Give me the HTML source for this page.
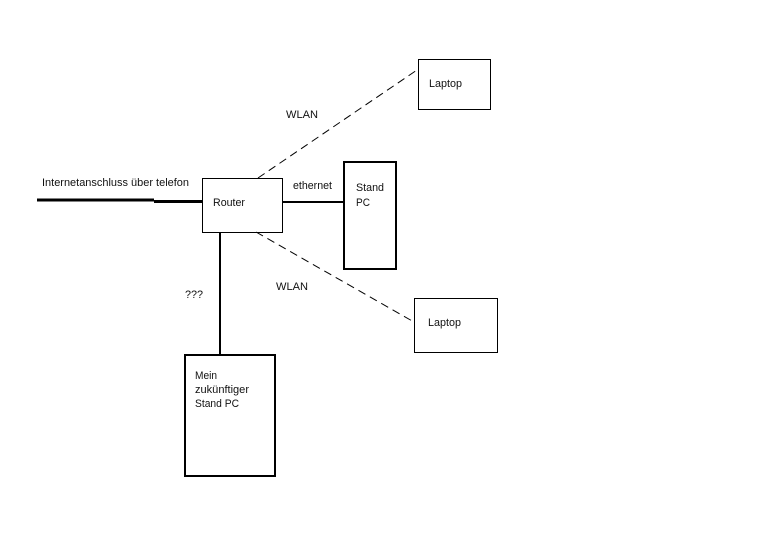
<!DOCTYPE html>
<html>
<head>
<meta charset="utf-8">
<style>
html,body{margin:0;padding:0;background:#fff;}
svg{display:block;}
text{font-family:"Liberation Sans",sans-serif;font-size:11px;fill:#111;}
</style>
</head>
<body>
<svg width="776" height="540" viewBox="0 0 776 540" xmlns="http://www.w3.org/2000/svg">
<rect width="776" height="540" fill="#fff"/>
<g fill="none" stroke="#000" shape-rendering="crispEdges">
<rect x="202.5" y="178.5" width="80" height="54" stroke-width="1"/>
<rect x="418.5" y="59.5" width="72" height="50" stroke-width="1"/>
<rect x="414.5" y="298.5" width="83" height="54" stroke-width="1"/>
<rect x="344" y="162" width="52" height="107" stroke-width="2"/>
<rect x="185" y="355" width="90" height="121" stroke-width="2"/>
</g>
<g stroke="#000" fill="none">
<line x1="37" y1="200" x2="154" y2="200" stroke-width="3" shape-rendering="crispEdges"/>
<line x1="154" y1="201.5" x2="203" y2="201.5" stroke-width="3" shape-rendering="crispEdges"/>
<line x1="282" y1="202" x2="343" y2="202" stroke-width="2" shape-rendering="crispEdges"/>
<line x1="220" y1="232" x2="220" y2="354" stroke-width="2" shape-rendering="crispEdges"/>
<line x1="258" y1="178" x2="417" y2="70" stroke-width="1" stroke-dasharray="8 5"/>
<line x1="256" y1="232" x2="414" y2="322" stroke-width="1" stroke-dasharray="8 5.1"/>
</g>
<text x="42" y="186" textLength="147" lengthAdjust="spacingAndGlyphs">Internetanschluss über telefon</text>
<text x="213" y="206" textLength="32" lengthAdjust="spacingAndGlyphs">Router</text>
<text x="293" y="189" textLength="39" lengthAdjust="spacingAndGlyphs">ethernet</text>
<text x="356" y="191" textLength="28" lengthAdjust="spacingAndGlyphs">Stand</text>
<text x="356" y="206" textLength="14" lengthAdjust="spacingAndGlyphs">PC</text>
<text x="429" y="87" textLength="33" lengthAdjust="spacingAndGlyphs">Laptop</text>
<text x="428" y="326" textLength="33" lengthAdjust="spacingAndGlyphs">Laptop</text>
<text x="286" y="118" textLength="32" lengthAdjust="spacingAndGlyphs">WLAN</text>
<text x="276" y="290" textLength="32" lengthAdjust="spacingAndGlyphs">WLAN</text>
<text x="185" y="298" textLength="18" lengthAdjust="spacingAndGlyphs">???</text>
<text x="195" y="379" textLength="22" lengthAdjust="spacingAndGlyphs">Mein</text>
<text x="195" y="393" textLength="54" lengthAdjust="spacingAndGlyphs">zukünftiger</text>
<text x="195" y="407" textLength="44" lengthAdjust="spacingAndGlyphs">Stand PC</text>
</svg>
</body>
</html>
